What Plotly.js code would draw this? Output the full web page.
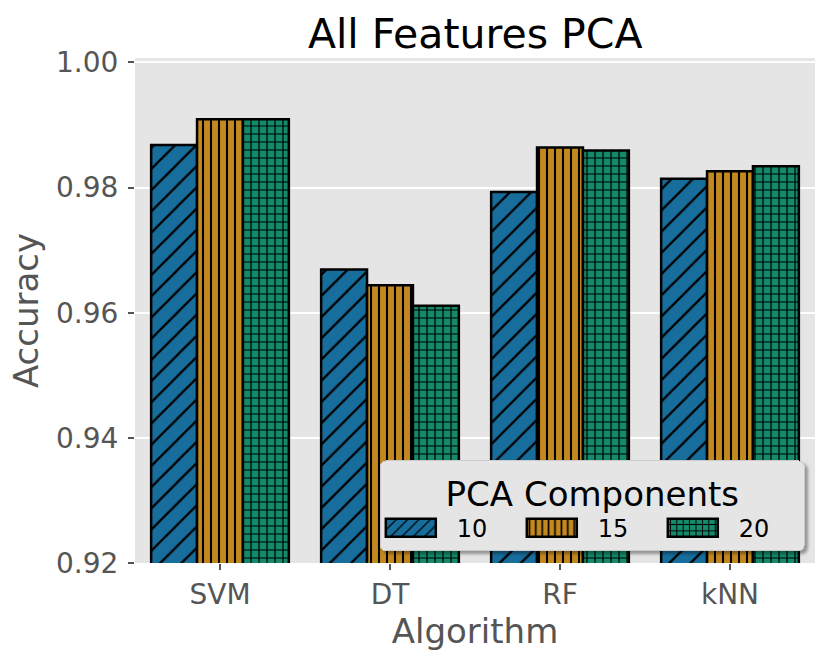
<!DOCTYPE html>
<html>
<head>
<meta charset="utf-8">
<script src="https://cdn.plot.ly/plotly-3.0.1.min.js"></script>
<style>
  html, body { margin: 0; padding: 0; background: #ffffff; }
  #chart { width: 830px; height: 663px; }
  #chart .legend .bg { filter: drop-shadow(3px 3px 1.5px rgba(0, 0, 0, 0.35)); }
</style>
</head>
<body>
<div id="chart"></div>
<script>
    'use strict';

    // values
    const algorithms = ['SVM', 'DT', 'RF', 'kNN'];
    const components = ['10', '15', '20'];
    const acc10 = [0.9868, 0.9669, 0.9793, 0.9814];
    const acc15 = [0.9909, 0.9644, 0.9864, 0.9826];
    const acc20 = [0.9909, 0.9611, 0.9859, 0.9834];
    const yTicks = [0.92, 0.94, 0.96, 0.98, 1.00];

    const series = [acc10, acc15, acc20];
    const barColors = ['#176D9C', '#C38820', '#158A6A'];
    const hatches = [
        { shape: '/', size: 15, solidity: 0.15 },
        { shape: '|', size: 8, solidity: 0.26 },
        { shape: '+', size: 8, solidity: 0.28 }
    ];

    const traces = series.map((vals, i) => ({
        type: 'bar',
        name: components[i],
        x: algorithms,
        y: vals,
        marker: {
            color: barColors[i],
            line: { color: '#000000', width: 2.5 },
            pattern: {
                shape: hatches[i].shape,
                size: hatches[i].size,
                solidity: hatches[i].solidity,
                fgcolor: '#000000',
                bgcolor: barColors[i],
                fillmode: 'replace'
            }
        },
        hoverinfo: 'x+y+name'
    }));

    const font = 'DejaVu Sans, Arial, sans-serif';

    const layout = {
        width: 830,
        height: 663,
        paper_bgcolor: '#ffffff',
        plot_bgcolor: '#E5E5E5',
        margin: { l: 135, r: 15, t: 58, b: 100 },
        font: { family: font, color: '#555555' },
        barmode: 'group',
        bargap: 0.19,
        bargroupgap: 0,
        title: {
            text: 'All Features PCA',
            font: { size: 41, color: '#000000', family: font },
            x: 0.5725,
            xanchor: 'center',
            y: 0.95,
            yanchor: 'middle'
        },
        xaxis: {
            range: [-0.5, 3.5],
            showgrid: false,
            zeroline: false,
            ticks: 'outside',
            ticklen: 6,
            tickwidth: 1.5,
            tickcolor: '#555555',
            tickfont: { size: 28, color: '#555555' },
            title: { text: 'Algorithm', font: { size: 34, color: '#555555' }, standoff: 4 }
        },
        yaxis: {
            range: [0.92, 1.0007],
            tickvals: yTicks,
            ticktext: yTicks.map(v => v.toFixed(2)),
            showgrid: true,
            gridcolor: '#ffffff',
            gridwidth: 1.6,
            zeroline: false,
            ticks: 'outside',
            ticklen: 6,
            tickwidth: 1.5,
            tickcolor: '#555555',
            ticklabelstandoff: 4,
            tickfont: { size: 28, color: '#555555' },
            title: { text: 'Accuracy', font: { size: 34, color: '#555555' }, standoff: 7 }
        },
        showlegend: true,
        legend: {
            orientation: 'h',
            x: 0.985,
            xanchor: 'right',
            y: 0.023,
            yanchor: 'bottom',
            bgcolor: '#E5E5E5',
            bordercolor: '#cccccc',
            borderwidth: 1,
            font: { size: 24, color: '#000000', family: font },
            title: { text: 'PCA Components', side: 'top center', font: { size: 34, color: '#000000', family: font } },
            entrywidth: 60,
            entrywidthmode: 'pixels',
            itemwidth: 66,
            traceorder: 'normal'
        }
    };

    // widen the legend swatches to look like matplotlib patches
    function styleLegend(gd) {
        gd.querySelectorAll('.legend .legendpoints path').forEach(p => {
            p.setAttribute('d', 'M25,9H-25V-9H25Z');
            p.setAttribute('transform', 'translate(30,0)');
        });
        const bg = gd.querySelector('.legend .bg');
        if (bg) {
            bg.setAttribute('rx', 6);
            bg.setAttribute('ry', 6);
        }
    }

    Plotly.newPlot('chart', traces, layout, { displayModeBar: false, responsive: false })
        .then(styleLegend);
</script>
</body>
</html>
